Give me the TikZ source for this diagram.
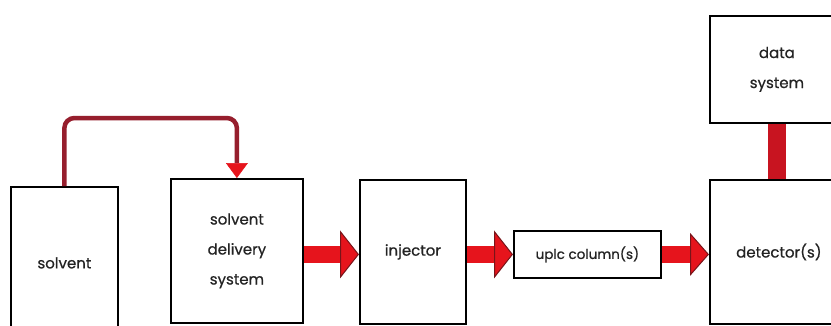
\documentclass[tikz,border=0pt]{standalone}
\usepackage{fontspec}
\setmainfont{Poppins}[UprightFeatures={FakeBold=0.6}]
\usetikzlibrary{arrows.meta,calc}
\definecolor{arrowred}{RGB}{230,20,28}
\definecolor{headedge}{RGB}{120,20,25}
\definecolor{fbred}{RGB}{150,30,45}
\definecolor{barred}{RGB}{200,20,32}
\definecolor{txt}{RGB}{35,35,35}
\begin{document}
\begin{tikzpicture}[x=1pt,y=-1pt,
  box/.style={draw=black, line width=1.8pt, fill=white, inner sep=0pt, anchor=north west,
    align=center, text=txt, font=\fontsize{15}{30}\selectfont},
  bigarrow/.style={draw=arrowred, line width=17pt,
    -{Triangle[width=48pt,length=19pt,line width=1pt,color=headedge,fill=arrowred]}},
  fb/.style={draw=fbred, line width=4.5pt, rounded corners=10pt,
    -{Triangle[width=22pt,length=15pt,line width=0.5pt,color=arrowred,fill=arrowred]}},
  bar/.style={draw=barred, line width=18pt}]
\useasboundingbox (0,0) rectangle (831,325);
\clip (0,0) rectangle (831,325);
\fill[white] (0,0) rectangle (831,325);
\node[box, minimum width=107pt, minimum height=152pt] (sol) at (10,186) {solvent};
\node[box, minimum width=132pt, minimum height=144pt] (sds) at (170,178) {solvent\\delivery\\system};
\node[box, minimum width=106pt, minimum height=144pt] (inj) at (359,179) {injector};
\node[box, minimum width=147pt, minimum height=47pt, font=\fontsize{13.5}{14}\selectfont] (col) at (513,230) {uplc column(s)};
\node[box, minimum width=138pt, minimum height=144pt] (det) at (709,179) {detector(s)};
\node[box, minimum width=134pt, minimum height=107pt] (ds) at (709,15) {data\\system};
\draw[fb] (sol.north) -- (sol.north |- 0,118) -- (sds.north |- 0,118) -- (sds.north);
\draw[bigarrow] (sds.east |- col.west) -- (inj.west |- col.west);
\draw[bigarrow] (inj.east |- col.west) -- (col.west);
\draw[bigarrow, -{Triangle[width=43pt,length=19pt,line width=1pt,color=headedge,fill=arrowred]}] (col.east) -- (det.west |- col.east);
\draw[bar] (ds.south) -- (ds.south |- det.north);
\end{tikzpicture}
\end{document}
